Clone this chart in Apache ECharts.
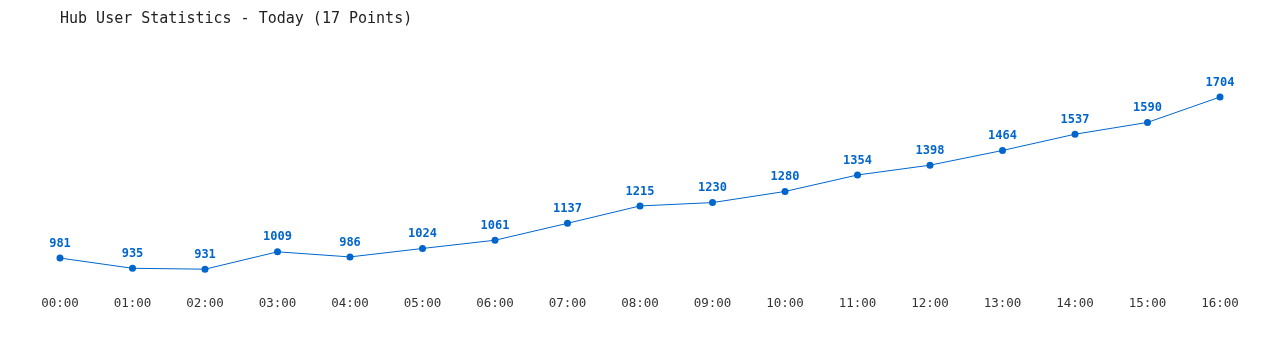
<!DOCTYPE html>
<html><head><meta charset="utf-8">
<script src="https://cdn.jsdelivr.net/npm/echarts@6/dist/echarts.min.js"></script>
<style>html,body{margin:0;padding:0;background:#fff}#c{width:1280px;height:350px}</style>
</head><body><div id="c"></div>
<script>
const categories = ["00:00","01:00","02:00","03:00","04:00","05:00","06:00","07:00","08:00","09:00","10:00","11:00","12:00","13:00","14:00","15:00","16:00"];
const users = [981,935,931,1009,986,1024,1061,1137,1215,1230,1280,1354,1398,1464,1537,1590,1704];
const titleText = "Hub User Statistics - Today (17 Points)";
const font = "'DejaVu Sans Mono','Liberation Mono',monospace";
const chart = echarts.init(document.getElementById('c'));
chart.setOption({
  animation:false,
  title:{text:titleText,left:55,top:7,textStyle:{fontFamily:font,fontSize:15,fontWeight:'normal',color:'#222'}},
  grid:{left:60,right:60,top:40,bottom:65},
  xAxis:{type:'category',data:categories,boundaryGap:false,
    axisLine:{show:false},axisTick:{show:false},splitLine:{show:false},
    axisLabel:{fontFamily:font,fontSize:12.5,color:'#333',margin:12}},
  yAxis:{type:'value',min:860,max:1960,show:false,splitLine:{show:false}},
  series:[{type:'line',data:users,symbol:'circle',symbolSize:7,
    lineStyle:{color:'#0066cc',width:1},itemStyle:{color:'#0066cc'},
    label:{show:true,position:'top',distance:5,fontFamily:font,fontSize:12,fontWeight:'bold',color:'#0066cc'}}]
});
</script></body></html>
